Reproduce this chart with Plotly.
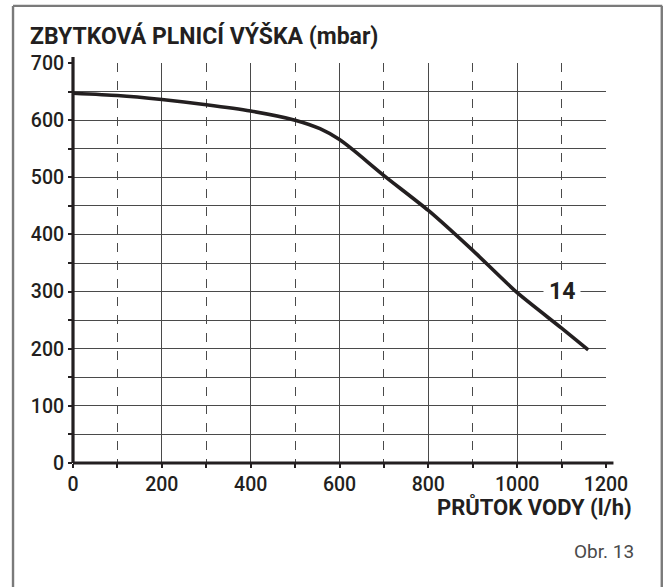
import plotly.graph_objects as go

# Data
flow_lh = [0, 100, 200, 300, 400, 500, 556, 600, 632, 700, 800, 900, 1000, 1100, 1160]
head_mbar = [647, 643, 636, 627, 616, 600, 585, 566, 547, 503, 442, 372, 298, 236, 198]

x_ticks = [0, 200, 400, 600, 800, 1000, 1200]
y_ticks = [0, 100, 200, 300, 400, 500, 600, 700]

curve_label = "14"
title_text = "ZBYTKOVÁ PLNICÍ VÝŠKA (mbar)"
x_title_text = "PRŮTOK VODY (l/h)"
fig_label = "Obr. 13"

FONT = "Roboto, DejaVu Sans Condensed, sans-serif"
INK = "#231f20"
GRID = "#4a4a4a"

W, H = 665, 587
L, R, T, B = 72.5, 665 - 605.7, 62.7, 587 - 463.5
PW, PH = W - L - R, H - T - B


def px(xp):
    return (xp - L) / PW


def py(yp):
    return (H - yp - B) / PH


fig = go.Figure()
fig.add_trace(go.Scatter(
    x=flow_lh, y=head_mbar, mode="lines",
    line=dict(color=INK, width=3.6, shape="spline", smoothing=0.6),
    hoverinfo="skip", showlegend=False,
))

fig.update_layout(
    width=W, height=H,
    margin=dict(l=L, r=R, t=T, b=B, pad=0, autoexpand=False),
    paper_bgcolor="white", plot_bgcolor="white",
    font=dict(family=FONT, color=INK, size=17),
    showlegend=False,
)

tickfont = dict(family=FONT, size=19.5, color=INK, weight=500)

fig.update_xaxes(
    range=[0, 1200], tickvals=x_ticks, ticktext=[str(v) for v in x_ticks],
    showgrid=True, gridcolor=GRID, gridwidth=1.3,
    ticks="outside", ticklen=4, tickwidth=1.5, tickcolor=INK,
    tickfont=tickfont, automargin=False,
    showline=False, zeroline=False,
    minor=dict(dtick=100, tick0=0, showgrid=True, griddash="dash",
               gridcolor=GRID, gridwidth=1.1, ticks="outside", ticklen=4, tickcolor=INK),
)
fig.update_yaxes(
    range=[0, 700], tickvals=y_ticks, ticktext=[str(v) for v in y_ticks],
    showgrid=True, gridcolor=GRID, gridwidth=1.3,
    ticks="outside", ticklen=4, tickwidth=1.5, tickcolor=INK,
    tickfont=tickfont, automargin=False,
    showline=False, zeroline=False,
    minor=dict(dtick=50, tick0=0, showgrid=True, gridcolor=GRID, gridwidth=1.3,
               ticks="outside", ticklen=4, tickcolor=INK),
)

# Thick axis lines that extend slightly past the plot area
fig.add_shape(type="line", xref="paper", yref="paper", x0=0, x1=1.014, y0=0, y1=0,
              line=dict(color=INK, width=3.2), layer="above")
fig.add_shape(type="line", xref="paper", yref="paper", x0=0, x1=0, y0=0, y1=1.015,
              line=dict(color=INK, width=3.2), layer="above")

# Outer frame (drawn as separate edges)
FRAME = dict(color="#7a7a7a", width=2.4)
fig.add_shape(type="line", xref="paper", yref="paper", x0=px(12.5), x1=px(662), y0=py(5.5), y1=py(5.5), line=FRAME)
fig.add_shape(type="line", xref="paper", yref="paper", x0=px(12.5), x1=px(12.5), y0=py(5.5), y1=py(600), line=FRAME)
fig.add_shape(type="line", xref="paper", yref="paper", x0=px(661.5), x1=px(661.5), y0=py(5.5), y1=py(600), line=FRAME)

# Curve label
fig.add_annotation(x=1100, y=300, xref="x", yref="y", text=f"<b>{curve_label}</b>",
                   showarrow=False, bgcolor="white", borderpad=5,
                   font=dict(family=FONT, size=23, color=INK))

# Titles
fig.add_annotation(xref="paper", yref="paper", x=px(27), y=py(36),
                   xanchor="left", yanchor="middle", showarrow=False,
                   text=f"<b>{title_text}</b>",
                   font=dict(family=FONT, size=23, color=INK))
fig.add_annotation(xref="paper", yref="paper", x=px(634), y=py(508),
                   xanchor="right", yanchor="middle", showarrow=False,
                   text=f"<b>{x_title_text}</b>",
                   font=dict(family=FONT, size=22, color=INK))
fig.add_annotation(xref="paper", yref="paper", x=px(636), y=py(552),
                   xanchor="right", yanchor="middle", showarrow=False,
                   text=fig_label,
                   font=dict(family=FONT, size=19, color="#4a4a4a"))

fig.write_html("out.html", config={"displayModeBar": False},
               post_script="document.body.style.margin='0';")
